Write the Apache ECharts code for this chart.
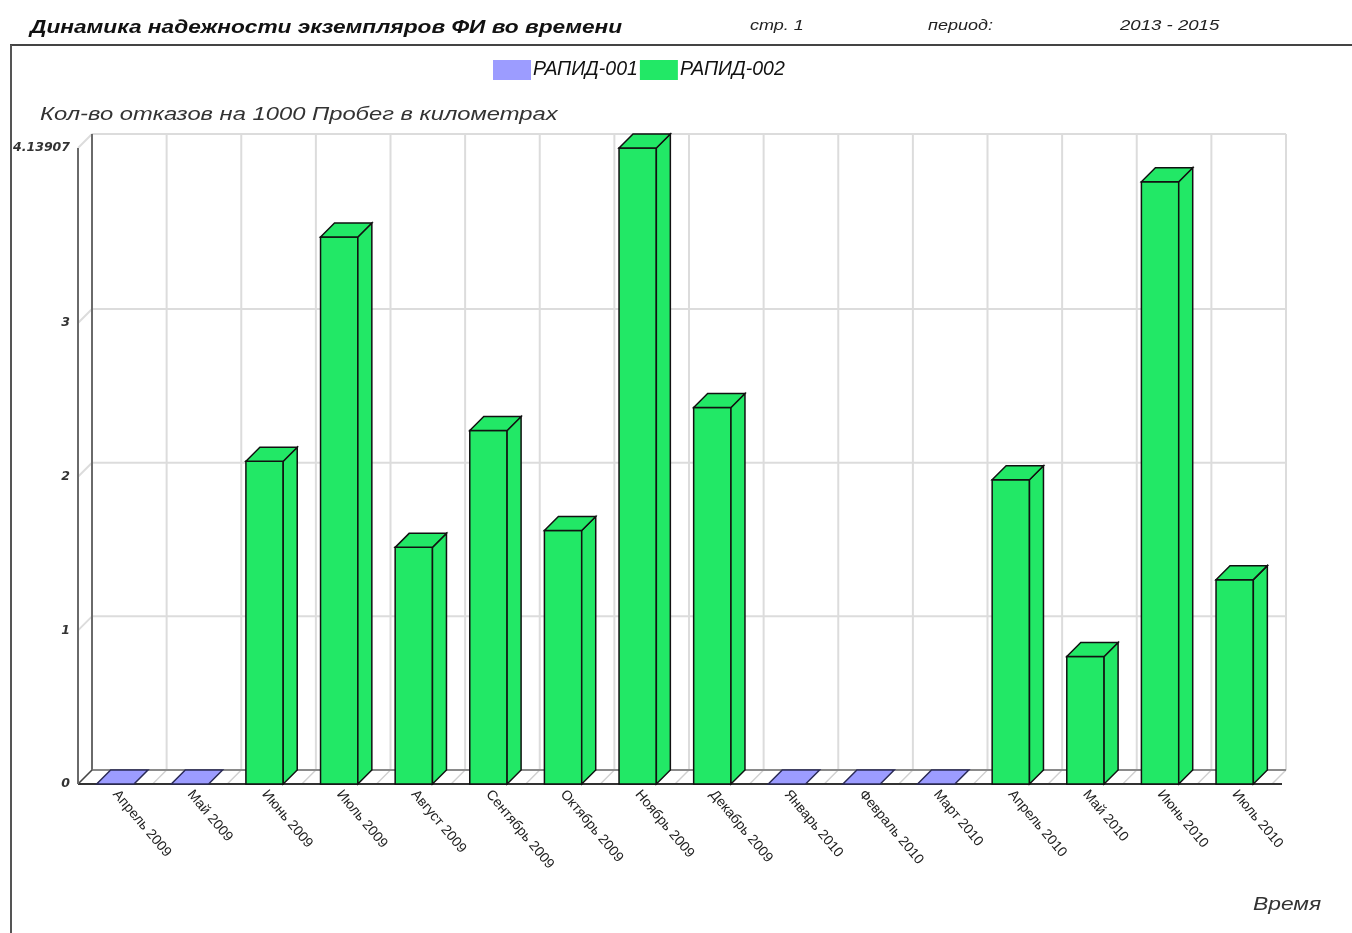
<!DOCTYPE html>
<html lang="ru">
<head>
<meta charset="UTF-8">
<title>Динамика надежности экземпляров ФИ во времени</title>
<script src="https://cdn.jsdelivr.net/npm/echarts@6/dist/echarts.min.js"></script>
<style>
  html, body { margin: 0; padding: 0; background: #fff; }
  #chart { width: 1352px; height: 933px; }
</style>
</head>
<body>
<div id="chart"></div>
<script>
// данные
var categories = ['Апрель 2009', 'Май 2009', 'Июнь 2009', 'Июль 2009', 'Август 2009', 'Сентябрь 2009',
  'Октябрь 2009', 'Ноябрь 2009', 'Декабрь 2009', 'Январь 2010', 'Февраль 2010', 'Март 2010',
  'Апрель 2010', 'Май 2010', 'Июнь 2010', 'Июль 2010'];
var rapid001 = [0, 0, null, null, null, null, null, null, null, 0, 0, 0, null, null, null, null];
var rapid002 = [null, null, 2.10, 3.56, 1.54, 2.30, 1.65, 4.13907, 2.45, null, null, null, 1.98, 0.83, 3.92, 1.33];
var yTicks = [0, 1, 2, 3, 4.13907];
var yMax = 4.13907;

var DX = 14, DY = 14;   // глубина 3D
var FONT = '"Liberation Sans", Arial, sans-serif';

function toData(arr) {
  var out = [];
  arr.forEach(function (v, i) { if (v !== null) out.push([i, v]); });
  return out;
}

// 3D столбик
function bar3d(fill, edge) {
  return function (params, api) {
    var idx = api.value(0), v = api.value(1);
    var base = api.coord([idx, 0]);
    var top = api.coord([idx, v]);
    var w = api.size([1, 0])[0] * 0.5;
    var x0 = base[0] - w / 2, x1 = base[0] + w / 2;
    var yb = base[1], yt = top[1];
    var st = { fill: fill, stroke: edge, lineWidth: 1.5 };
    var ch = [];
    if (yb - yt > 0.5) {
      ch.push({ type: 'rect', shape: { x: x0, y: yt, width: w, height: yb - yt }, style: st });
      ch.push({ type: 'polygon', shape: { points: [[x1, yb], [x1 + DX, yb - DY], [x1 + DX, yt - DY], [x1, yt]] }, style: st });
    }
    ch.push({ type: 'polygon', shape: { points: [[x0, yt], [x1, yt], [x1 + DX, yt - DY], [x0 + DX, yt - DY]] }, style: st });
    return { type: 'group', children: ch };
  };
}

// стенки и пол
function frame(params, api) {
  var cs = params.coordSys;
  var L = cs.x, R = cs.x + cs.width;
  var bw = cs.width / categories.length;
  var y0 = api.coord([0, 0])[1];
  var yT = api.coord([0, yMax])[1];
  var light = { stroke: '#dcdcdc', lineWidth: 2 };
  var ch = [];
  function ln(a, b, c, d, st) { ch.push({ type: 'line', shape: { x1: a, y1: b, x2: c, y2: d }, style: st }); }
  yTicks.forEach(function (t) {
    var y = api.coord([0, t])[1];
    ln(L + DX, y - DY, R + DX, y - DY, light);
    ln(L, y, L + DX, y - DY, light);
  });
  for (var i = 1; i <= categories.length; i++) {
    var x = L + i * bw;
    ln(x + DX, y0 - DY, x + DX, yT - DY, light);
    ln(x, y0, x + DX, y0 - DY, { stroke: '#d0d0d0', lineWidth: 1.5 });
  }
  ln(L + DX, y0 - DY, R + DX, y0 - DY, { stroke: '#8a8a8a', lineWidth: 2 });
  ln(L, y0, R + 10, y0, { stroke: '#333', lineWidth: 2 });
  ln(L, y0, L + DX, y0 - DY, { stroke: '#444', lineWidth: 1.5 });
  ln(L, y0, L, yT, { stroke: '#6a6a6a', lineWidth: 2 });
  ln(L + DX, y0 - DY, L + DX, yT - DY, { stroke: '#6a6a6a', lineWidth: 2 });
  return { type: 'group', children: ch, silent: true };
}

var chart = echarts.init(document.getElementById('chart'));
chart.setOption({
  animation: false,
  backgroundColor: '#fff',
  legend: {
    data: ['РАПИД-001', 'РАПИД-002'],
    left: 488, top: 55,
    itemWidth: 38, itemHeight: 20, itemGap: 2,
    icon: 'rect',
    textStyle: { fontFamily: FONT, fontStyle: 'italic', fontSize: 19.5, color: '#111', padding: [0, 0, 0, -3] }
  },
  grid: { left: 78, right: 80, top: 148, bottom: 149 },
  xAxis: {
    type: 'category',
    data: categories,
    axisLine: { show: false },
    axisTick: { show: false },
    splitLine: { show: false },
    axisLabel: {
      interval: 0, rotate: -50, margin: 8,
      fontFamily: FONT, fontSize: 14, color: '#222'
    }
  },
  yAxis: {
    type: 'value',
    min: 0, max: yMax, interval: 1,
    axisLine: { show: false },
    axisTick: { show: false },
    splitLine: { show: false },
    axisLabel: {
      margin: 8,
      fontFamily: '"DejaVu Sans", sans-serif', fontStyle: 'italic', fontWeight: 'bold',
      fontSize: 12.5, color: '#333',
      formatter: function (v) { return yTicks.indexOf(v) >= 0 ? String(v) : ''; }
    }
  },
  graphic: [
    { type: 'line', shape: { x1: 10, y1: 45, x2: 1352, y2: 45 }, style: { stroke: '#444', lineWidth: 2 } },
    { type: 'line', shape: { x1: 11, y1: 45, x2: 11, y2: 933 }, style: { stroke: '#555', lineWidth: 2 } },
    { type: 'text', x: 30, y: 28, scaleX: 1.26,
      style: { text: 'Динамика надежности экземпляров ФИ во времени', font: 'italic bold 18px ' + FONT, fill: '#111', verticalAlign: 'middle' } },
    { type: 'text', x: 750, y: 26, scaleX: 1.2,
      style: { text: 'стр. 1', font: 'italic 15px ' + FONT, fill: '#222', verticalAlign: 'middle' } },
    { type: 'text', x: 928, y: 26, scaleX: 1.2,
      style: { text: 'период:', font: 'italic 15px ' + FONT, fill: '#222', verticalAlign: 'middle' } },
    { type: 'text', x: 1120, y: 26, scaleX: 1.24,
      style: { text: '2013 - 2015', font: 'italic 15px ' + FONT, fill: '#222', verticalAlign: 'middle' } },
    { type: 'text', x: 40, y: 115, scaleX: 1.32,
      style: { text: 'Кол-во отказов на 1000 Пробег в километрах', font: 'italic 18px ' + FONT, fill: '#333', verticalAlign: 'middle' } },
    { type: 'text', x: 1253, y: 905, scaleX: 1.2,
      style: { text: 'Время', font: 'italic 19px ' + FONT, fill: '#333', verticalAlign: 'middle' } }
  ],
  series: [
    { type: 'custom', name: 'frame', z: 1, silent: true, renderItem: frame, data: [[0, 0]] },
    { type: 'custom', name: 'РАПИД-001', z: 2, itemStyle: { color: '#9c9cff' },
      renderItem: bar3d('#9c9cff', '#2a2a55'), data: toData(rapid001), encode: { x: 0, y: 1 } },
    { type: 'custom', name: 'РАПИД-002', z: 2, itemStyle: { color: '#22e866' },
      renderItem: bar3d('#22e866', '#111'), data: toData(rapid002), encode: { x: 0, y: 1 } }
  ]
});
</script>
</body>
</html>
